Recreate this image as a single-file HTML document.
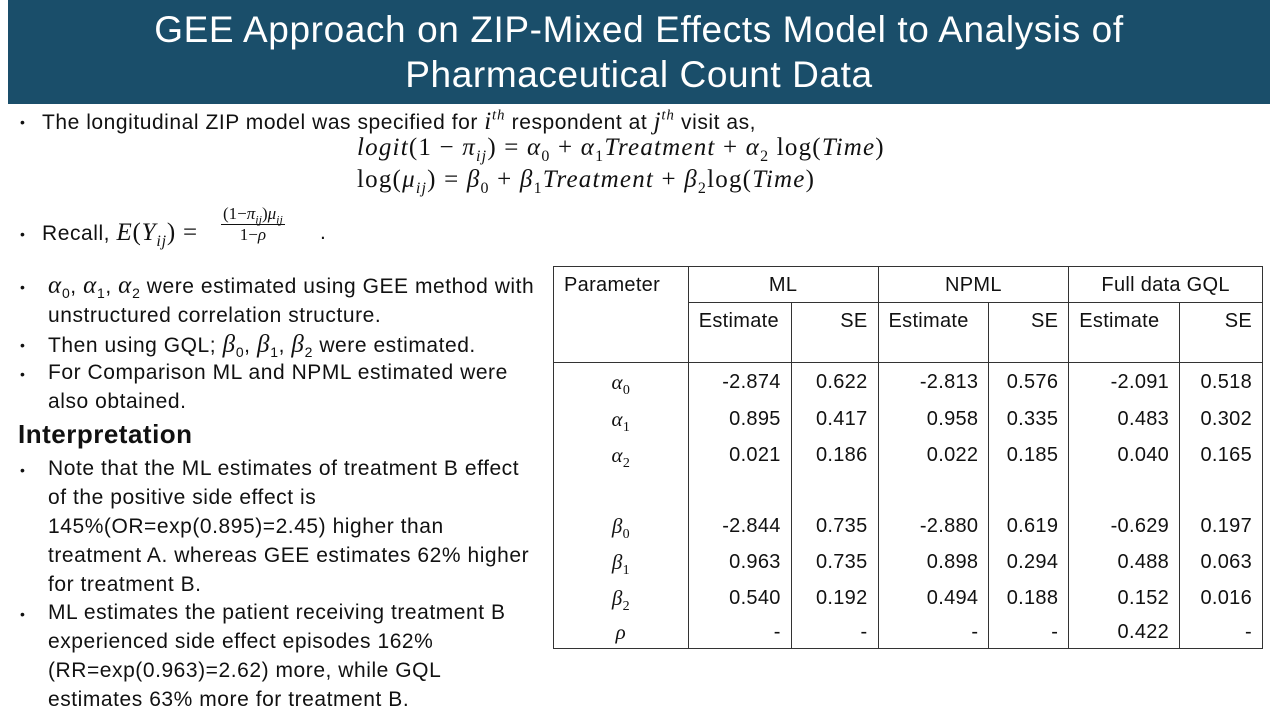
<!DOCTYPE html>
<html><head><meta charset="utf-8"><style>
body{margin:0;width:1280px;height:720px;background:#fff;position:relative;overflow:hidden;font-family:"Liberation Sans",sans-serif;color:#111}
.a{position:absolute;white-space:nowrap}
.t{font-size:21px;letter-spacing:0.55px}
.m{font-family:"Liberation Serif",serif;font-size:25px;letter-spacing:0.8px}
.i{font-style:italic}
sub,sup{line-height:0}
.b{position:absolute;font-size:14px}
table{position:absolute;left:553px;top:266px;width:710px;border-collapse:collapse;font-size:20px;letter-spacing:0.3px}
td{border-left:1.5px solid #333;border-right:1.5px solid #333;padding:0 10px;line-height:20px}
.gr{font-family:"Liberation Serif",serif;font-style:italic;text-align:center;font-size:21px}
</style></head><body>
<div class="a" style="left:8px;top:0;width:1262px;height:104px;background:#1a4e6a;color:#fff;font-size:37px;letter-spacing:0.6px;text-align:center;line-height:45px;padding-top:7px;box-sizing:border-box;white-space:normal">GEE Approach on ZIP-Mixed Effects Model to Analysis of<br>Pharmaceutical Count Data</div>

<div class="b" style="left:20px;top:114px">•</div>
<div class="a t" style="left:42px;top:108px">The longitudinal ZIP model was specified for <span class="m i">i<sup style="font-size:15px">th</sup></span> respondent at <span class="m i">j<sup style="font-size:15px">th</sup></span> visit as,</div>
<div class="a m" style="left:357px;top:134px;letter-spacing:1.2px"><i>logit</i>(1 − <i>π<sub style="font-size:16px">ij</sub></i>) = <i>α</i><sub style="font-size:16px">0</sub> + <i>α</i><sub style="font-size:16px">1</sub><i>Treatment</i> + <i>α</i><sub style="font-size:16px">2</sub> log(<i>Time</i>)</div>
<div class="a m" style="left:357px;top:166px;letter-spacing:1.2px">log(<i>μ<sub style="font-size:16px">ij</sub></i>) = <i>β</i><sub style="font-size:16px">0</sub> + <i>β</i><sub style="font-size:16px">1</sub><i>Treatment</i> + <i>β</i><sub style="font-size:16px">2</sub>log(<i>Time</i>)</div>

<div class="b" style="left:20px;top:226px">•</div>
<div class="a t" style="left:42px;top:219px">Recall, <span class="m"><i>E</i>(<i>Y<sub style="font-size:16px">ij</sub></i>) =</span></div>
<div class="a" style="left:221px;top:204px;font-family:'Liberation Serif',serif;font-size:17px;text-align:center;line-height:20px">
<div style="border-bottom:1px solid #111;padding:0 2px">(1−<i>π<sub style="font-size:12px">ij</sub></i>)<i>μ<sub style="font-size:12px">ij</sub></i></div><div>1−<i>ρ</i></div></div>
<div class="a t" style="left:320px;top:221px">.</div>

<div class="b" style="left:20px;top:279px">•</div>
<div class="a t" style="left:48px;top:271px;line-height:29px"><span class="m i">α</span><sub style="font-size:14px">0</sub>, <span class="m i">α</span><sub style="font-size:14px">1</sub>, <span class="m i">α</span><sub style="font-size:14px">2</sub> were estimated using GEE method with<br>unstructured correlation structure.</div>
<div class="b" style="left:20px;top:337px">•</div>
<div class="a t" style="left:48px;top:330px;line-height:29px">Then using GQL;  <span class="m i">β</span><sub style="font-size:14px">0</sub>, <span class="m i">β</span><sub style="font-size:14px">1</sub>, <span class="m i">β</span><sub style="font-size:14px">2</sub> were estimated.</div>
<div class="b" style="left:20px;top:366px">•</div>
<div class="a t" style="left:48px;top:358px;line-height:29px">For Comparison ML and NPML estimated were<br>also obtained.</div>
<div class="a" style="left:18px;top:419px;font-size:26px;font-weight:bold;letter-spacing:0.5px">Interpretation</div>
<div class="b" style="left:20px;top:462px">•</div>
<div class="a t" style="left:48px;top:454px;line-height:29px">Note that the ML estimates of treatment B effect<br>of the positive side effect is<br>145%(OR=exp(0.895)=2.45) higher than<br>treatment A. whereas GEE estimates 62% higher<br>for treatment B.</div>
<div class="b" style="left:20px;top:606px">•</div>
<div class="a t" style="left:48px;top:598px;line-height:29px">ML estimates the patient receiving treatment B<br>experienced side effect episodes 162%<br>(RR=exp(0.963)=2.62) more, while GQL<br>estimates 63% more for treatment B.</div>

<table>
<colgroup><col style="width:135px"><col style="width:103px"><col style="width:87px"><col style="width:111px"><col style="width:80px"><col style="width:111px"><col style="width:83px"></colgroup>
<tr style="height:36px;border-top:1.5px solid #333"><td rowspan="2" style="vertical-align:top;padding-top:8px">Parameter</td><td colspan="2" style="text-align:center;border-bottom:1px solid #333">ML</td><td colspan="2" style="text-align:center;border-bottom:1px solid #333">NPML</td><td colspan="2" style="text-align:center;border-bottom:1px solid #333">Full data GQL</td></tr>
<tr style="height:60px;vertical-align:top"><td style="padding-top:8px">Estimate</td><td style="text-align:right;padding-top:8px">SE</td><td style="padding-top:8px">Estimate</td><td style="text-align:right;padding-top:8px">SE</td><td style="padding-top:8px">Estimate</td><td style="text-align:right;padding-top:8px">SE</td></tr>
<tbody id="tb" style="border-top:1.5px solid #333;border-bottom:1.5px solid #333;text-align:right"></tbody>
</table>
<script>
const params=["α|0","α|1","α|2","","β|0","β|1","β|2","ρ|"];
const mlEst=["-2.874","0.895","0.021","","-2.844","0.963","0.540","-"];
const mlSE=["0.622","0.417","0.186","","0.735","0.735","0.192","-"];
const npEst=["-2.813","0.958","0.022","","-2.880","0.898","0.494","-"];
const npSE=["0.576","0.335","0.185","","0.619","0.294","0.188","-"];
const gqEst=["-2.091","0.483","0.040","","-0.629","0.488","0.152","0.422"];
const gqSE=["0.518","0.302","0.165","","0.197","0.063","0.016","-"];
const rowH=[38,36,36,35,36,36,36,33];
const tb=document.getElementById('tb');
params.forEach((p,i)=>{
  const tr=document.createElement('tr');
  
  
  tr.style.height=rowH[i]+'px';
  const [g,s]=p.split('|');
  const c0=document.createElement('td');c0.className='gr';
  c0.innerHTML=g?g+'<sub style="font-size:14px;font-style:normal">'+s+'</sub>':'';
  tr.appendChild(c0);
  [mlEst,mlSE,npEst,npSE,gqEst,gqSE].forEach(a=>{const c=document.createElement('td');c.textContent=a[i];tr.appendChild(c);});
  tb.appendChild(tr);
});
</script>
</body></html>
